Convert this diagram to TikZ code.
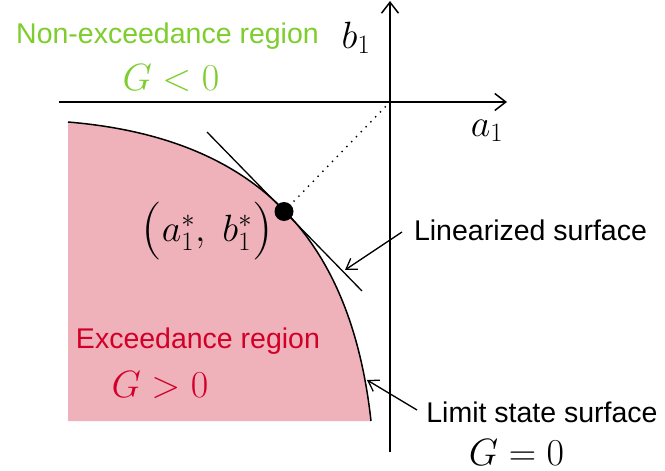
\RequirePackage{fix-cm}
\documentclass[tikz,border=0pt]{standalone}
\usepackage{fontspec}
\setmainfont{Liberation Sans}
\usetikzlibrary{arrows.meta}
\definecolor{pinkfill}{RGB}{239,178,186}
\definecolor{exred}{RGB}{210,0,40}
\definecolor{nongreen}{RGB}{125,205,45}
\newcommand{\tallparen}[1]{\vcenter{\hbox{\fontsize{58}{58}\selectfont$#1$}}}
\begin{document}
\begin{tikzpicture}[x=1pt,y=-1pt,
  lbl/.style={font=\fontsize{28.5}{34}\selectfont, inner sep=0pt, anchor=base},
  mth/.style={font=\fontsize{38}{44}\selectfont, inner sep=0pt, anchor=base},
  axis/.style={line width=1.5pt, -{Straight Barb[length=11pt,width=17pt,line width=1.5pt]}},
  callout/.style={line width=1.3pt, -{Straight Barb[length=10pt,width=13pt,line width=1.3pt]}},
  curve/.style={line width=1.5pt},
  tangentline/.style={line width=1.3pt},
  dotline/.style={line width=1.4pt, dash pattern=on 1.4pt off 5.5pt}]
\path[use as bounding box] (0,0) rectangle (665,471);
% region
\coordinate (cA) at (68,122);
\coordinate (cB) at (371,421);
\coordinate (cC) at (68,421);
\fill[pinkfill] (cC) -- (cA) .. controls (254,137.6) and (350.5,235) .. (cB) -- cycle;
% axes
\coordinate (O) at (390,102);
\coordinate (xL) at (59,102);
\coordinate (xR) at (507,102);
\coordinate (yB) at (390,452);
\coordinate (yT) at (390,1);
\draw[axis] (xL) -- (xR);
\draw[axis] (yB) -- (yT);
% limit state curve
\draw[curve] (cA) .. controls (254,137.6) and (350.5,235) .. (cB);
% tangent
\coordinate (tA) at (207,132);
\coordinate (tB) at (362,291);
\draw[tangentline] (tA) -- (tB);
% design point
\coordinate (P) at (284,211.5);
\draw[dotline] (P) -- (O);
\node[circle, fill=black, minimum size=19pt, inner sep=0pt] (dot) at (P) {};
% labels
\node[lbl, text=nongreen] (non) at (167.5,43) {Non-exceedance region};
\node[mth, text=nongreen] (gl) at (171,90) {$G<0$};
\node[mth] (b1) at (356,48) {$b_1$};
\node[mth] (a1) at (487,136) {$a_1$};
\node[mth] (pt) at (207,241) {$\tallparen{(}a_1^*,\ b_1^*\tallparen{)}$};
\node[lbl, text=exred] (ex) at (198,348) {Exceedance region};
\node[mth, text=exred] (gg) at (160,397) {$G>0$};
\node[lbl] (lin) at (530.5,240) {Linearized surface};
\node[lbl] (lim) at (542,422) {Limit state surface};
\node[mth] (ge) at (516.5,465) {$G=0$};
% callouts
\coordinate (linS) at (402,232);
\coordinate (linT) at (345,270);
\draw[callout] (linS) -- (linT);
\coordinate (limS) at (417,410);
\coordinate (limT) at (367,380);
\draw[callout] (limS) -- (limT);
\end{tikzpicture}
\end{document}
